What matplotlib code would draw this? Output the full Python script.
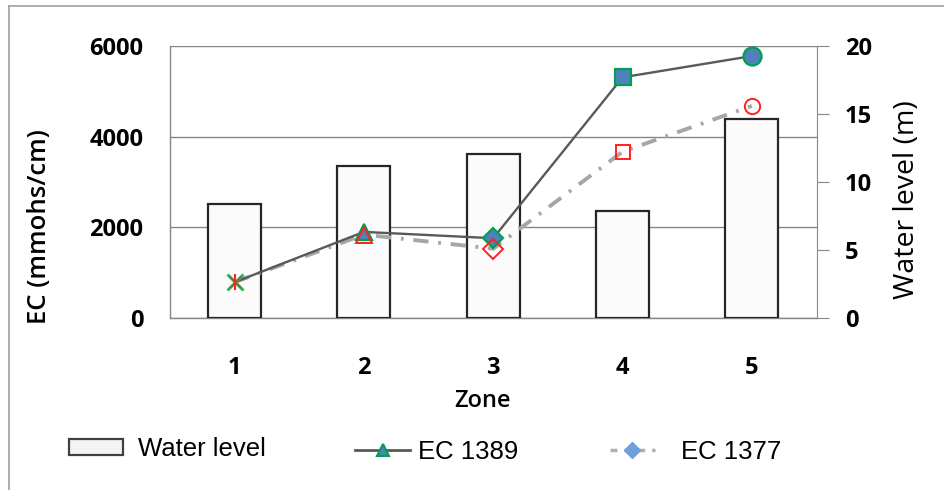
import matplotlib
matplotlib.use("Agg")
import matplotlib.pyplot as plt
from matplotlib.lines import Line2D
from matplotlib.patches import Patch

zones = [1, 2, 3, 4, 5]
zone_labels = ["1", "2", "3", "4", "5"]
water_level = [8.4, 11.2, 12.05, 7.9, 14.6]
ec_1389 = [790, 1900, 1760, 5310, 5780]
ec_1377 = [790, 1840, 1530, 3670, 4680]

ec_ticks = [0, 2000, 4000, 6000]
wl_ticks = [0, 5, 10, 15, 20]

grey = "#868686"
green = "#00a050"
blue = "#4f81bd"
red = "#ff2020"

plt.rcParams["lines.scale_dashes"] = False
tick_font = {"family": "Open Sans", "weight": "bold", "size": 17}

fig = plt.figure(figsize=(9.44, 4.9), dpi=100)

# axis that carries the EC scale and the gridlines (drawn first, under the bars)
ax = fig.add_axes([0.180, 0.351, 0.685, 0.555])
ax.set_xlim(0.5, 5.5)
ax.set_ylim(0, 6000)
ax.set_yticks(ec_ticks)
ax.set_yticklabels([str(t) for t in ec_ticks], fontdict=tick_font)
ax.set_xticks(zones)
ax.set_xticklabels(zone_labels, fontdict=tick_font)
ax.tick_params(axis="y", length=0, pad=19)
ax.tick_params(axis="x", length=0, pad=27)
ax.grid(axis="y", color=grey, linewidth=1)
ax.set_axisbelow(True)
for s in ["top", "right"]:
    ax.spines[s].set_visible(False)
for s in ["left", "bottom"]:
    ax.spines[s].set_color(grey)
    ax.spines[s].set_linewidth(1)
ax.set_ylabel("EC (mmohs/cm)", family="Open Sans", weight="semibold", size=18.5)
ax.yaxis.set_label_coords(-0.182, 0.335)
ax.set_xlabel("Zone", family="Open Sans", weight="semibold", size=17)
ax.xaxis.set_label_coords(0.484, -0.262)

# bars on the water level scale
axw = ax.twinx()
axw.set_ylim(0, 20)
axw.bar(zones, water_level, width=0.41, color="#fbfbfb", edgecolor="#262626", linewidth=1.6, zorder=2)
axw.set_yticks(wl_ticks)
axw.set_yticklabels([str(t) for t in wl_ticks], fontdict=tick_font)
axw.tick_params(axis="y", length=8.5, color=grey, pad=12)
for s in ["top", "left", "bottom"]:
    axw.spines[s].set_visible(False)
axw.spines["right"].set_color(grey)
axw.set_ylabel("Water level (m)", family="Open Sans", size=20.5)
axw.yaxis.set_label_coords(1.118, 0.434)

# EC lines on top
axl = ax.twinx()
axl.set_ylim(0, 6000)
axl.axis("off")
axl.plot(zones, ec_1377, color="#a6a6a6", linewidth=2.8, dashes=(11, 7, 2, 7), zorder=3)
axl.plot(zones, ec_1389, color="#595959", linewidth=1.7, zorder=4)

m1389 = ["x", "^", "D", "s", "o"]
s1389 = [11, 11, 10, 12, 13]
for i in range(len(zones)):
    if m1389[i] == "x":
        axl.plot(zones[i], ec_1389[i], marker="x", markersize=s1389[i], color="#20c060", mew=2.2, zorder=5)
    else:
        axl.plot(zones[i], ec_1389[i], marker=m1389[i], markersize=s1389[i],
                 markerfacecolor=blue, markeredgecolor=green, mew=1.6, zorder=5)

m1377 = ["x", "^", "D", "s", "o"]
s1377 = [8, 11, 10, 10, 11]
for i in range(len(zones)):
    if m1377[i] == "x":
        axl.plot(zones[i], ec_1377[i], marker="|", markersize=11, color=red, mew=1.5, zorder=6)
        axl.plot(zones[i], ec_1377[i], marker="x", markersize=s1377[i], color=red, mew=0.8, zorder=6)
    else:
        axl.plot(zones[i], ec_1377[i], marker=m1377[i], markersize=s1377[i],
                 markerfacecolor="none", markeredgecolor=red, mew=1.4, zorder=6)

# legend, one entry at a time to keep Excel's spacing
leg_font = {"family": "Liberation Sans", "size": 18.5}
h_wl = Patch(facecolor="#f4f4f4", edgecolor="#404040", linewidth=1.6)
h_1389 = Line2D([], [], color="#595959", linewidth=2, marker="^", markersize=9,
                markerfacecolor=blue, markeredgecolor=green, mew=1.5)
h_1377 = Line2D([], [], color="#b0b0b0", linewidth=2.5, dashes=(5, 5), marker="D", markersize=8,
                markerfacecolor="#6fa0dc", markeredgecolor="#6fa0dc")

fig.legend([h_wl], ["Water level"], loc="center left", bbox_to_anchor=(69 / 944, 1 - 449 / 490),
           frameon=False, prop=leg_font, handlelength=2.1, handleheight=0.58,
           handletextpad=0.6, borderpad=0, borderaxespad=0)
fig.legend([h_1389], ["EC 1389"], loc="center left", bbox_to_anchor=(355 / 944, 1 - 452 / 490),
           frameon=False, prop=leg_font, handlelength=2.15,
           handletextpad=0.3, borderpad=0, borderaxespad=0)
fig.legend([h_1377], ["EC 1377"], loc="center left", bbox_to_anchor=(610 / 944, 1 - 452 / 490),
           frameon=False, prop=leg_font, handlelength=1.75,
           handletextpad=1.0, borderpad=0, borderaxespad=0)

# chart area border
fig.add_artist(Line2D([9 / 944, 9 / 944], [0, 1 - 6 / 490], color="#a0a0a0", linewidth=1.2))
fig.add_artist(Line2D([9 / 944, 1], [1 - 6 / 490, 1 - 6 / 490], color="#a0a0a0", linewidth=1.2))

fig.savefig("out.png", dpi=100)
